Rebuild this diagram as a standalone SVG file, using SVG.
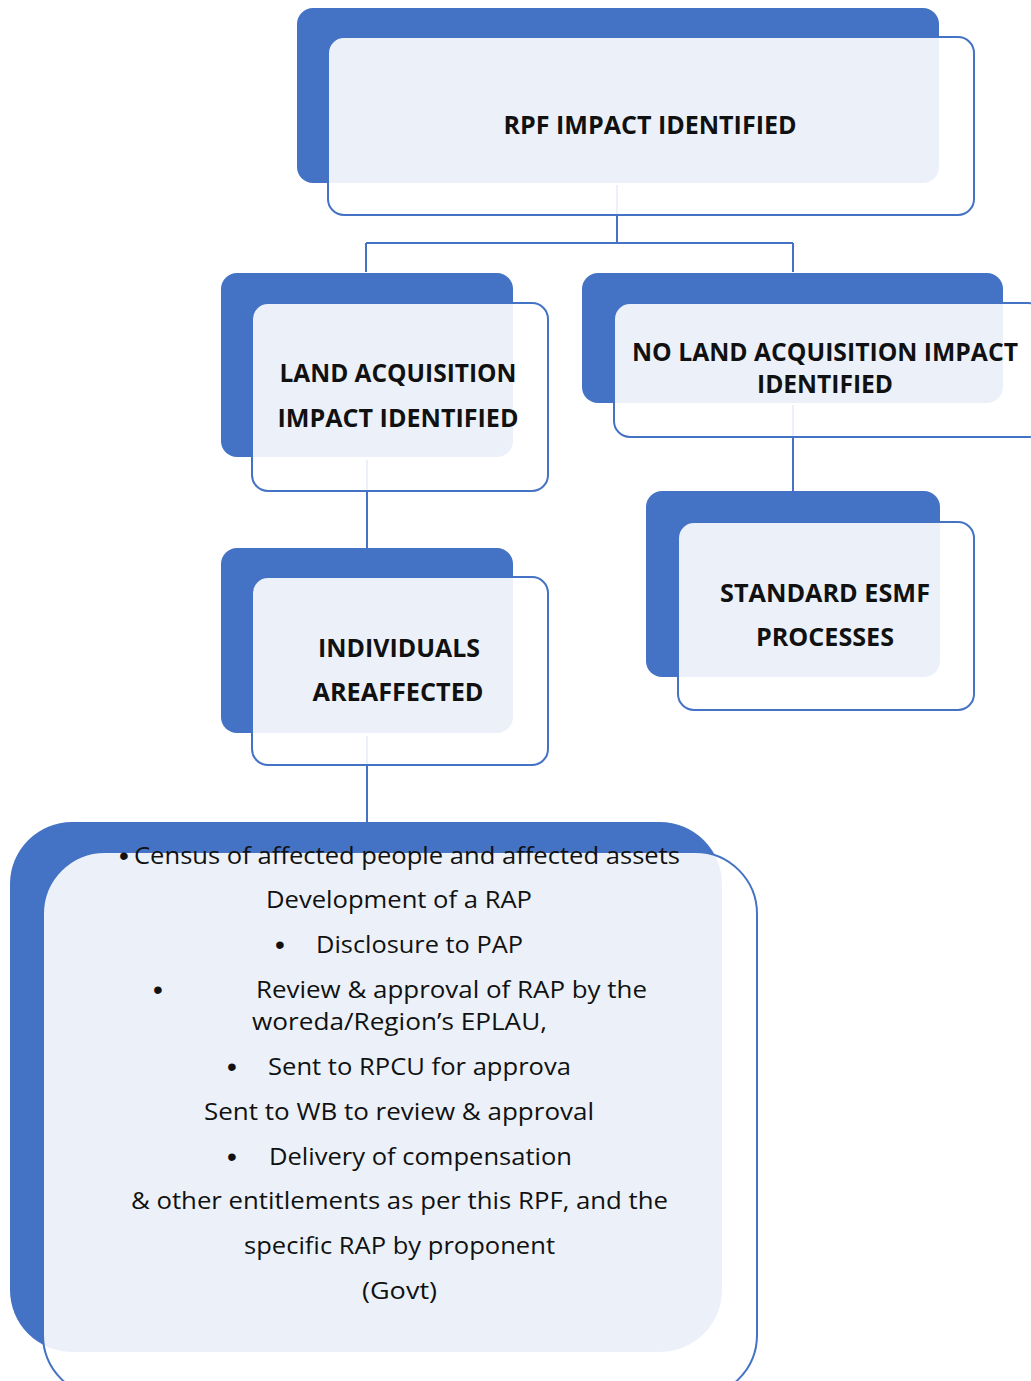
<svg xmlns="http://www.w3.org/2000/svg" width="1031" height="1381" viewBox="0 0 1031 1381">
<style>
.back{fill:#4472C4}
.front{fill:#ffffff;fill-opacity:0.9;stroke:#4472C4;stroke-width:2}
.conn{stroke:#4472C4;stroke-width:2;fill:none}
.t{font-family:"Open Sans","Liberation Sans",sans-serif;font-weight:bold;font-size:25px;fill:#111;text-anchor:middle}
.b{font-family:"Open Sans","Liberation Sans",sans-serif;font-size:24px;fill:#111}
.bul{font-family:"Liberation Sans",sans-serif;font-size:28px;fill:#111}
</style>
<rect width="1031" height="1381" fill="#ffffff"/>
<g id="connectors">
<path class="conn" d="M617,185 V243 M366,243 H793 M366,243 V272 M793,243 V272"/>
<path class="conn" d="M367,460 V548"/>
<path class="conn" d="M793,405 V491"/>
<path class="conn" d="M367,736 V822"/>
</g>
<g id="node-rpf">
<rect class="back" x="297" y="8" width="642" height="175" rx="16"/>
<rect class="front" x="328" y="37" width="646" height="178" rx="16"/>
<text class="t" x="650" y="134" textLength="293" lengthAdjust="spacingAndGlyphs">RPF IMPACT IDENTIFIED</text>
</g>
<g id="node-land">
<rect class="back" x="221" y="273" width="292" height="184" rx="16"/>
<rect class="front" x="252" y="303" width="296" height="188" rx="16"/>
<text class="t" x="398" y="382" textLength="237" lengthAdjust="spacingAndGlyphs">LAND ACQUISITION</text>
<text class="t" x="398" y="427" textLength="241" lengthAdjust="spacingAndGlyphs">IMPACT IDENTIFIED</text>
</g>
<g id="node-noland">
<rect class="back" x="582" y="273" width="421" height="130" rx="16"/>
<rect class="front" x="614" y="303" width="430" height="134" rx="16"/>
<text class="t" x="825" y="361" textLength="386" lengthAdjust="spacingAndGlyphs">NO LAND ACQUISITION IMPACT</text>
<text class="t" x="825" y="393" textLength="136" lengthAdjust="spacingAndGlyphs">IDENTIFIED</text>
</g>
<g id="node-individuals">
<rect class="back" x="221" y="548" width="292" height="185" rx="16"/>
<rect class="front" x="252" y="577" width="296" height="188" rx="16"/>
<text class="t" x="399" y="657" textLength="162" lengthAdjust="spacingAndGlyphs">INDIVIDUALS</text>
<text class="t" x="398" y="701" textLength="171" lengthAdjust="spacingAndGlyphs">AREAFFECTED</text>
</g>
<g id="node-esmf">
<rect class="back" x="646" y="491" width="294" height="186" rx="16"/>
<rect class="front" x="678" y="522" width="296" height="188" rx="16"/>
<text class="t" x="825" y="602" textLength="210" lengthAdjust="spacingAndGlyphs">STANDARD ESMF</text>
<text class="t" x="825" y="646" textLength="138" lengthAdjust="spacingAndGlyphs">PROCESSES</text>
</g>
<g id="node-process">
<rect class="back" x="10" y="822" width="712" height="530" rx="62"/>
<rect class="front" x="43" y="852" width="714" height="545" rx="62"/>
<text class="bul" x="119" y="865">•</text>
<text class="b" x="134" y="864" textLength="546" lengthAdjust="spacingAndGlyphs">Census of affected people and affected assets</text>
<text class="b" x="266" y="908" textLength="266" lengthAdjust="spacingAndGlyphs">Development  of a RAP</text>
<text class="bul" x="275" y="954">•</text>
<text class="b" x="316" y="953" textLength="207" lengthAdjust="spacingAndGlyphs">Disclosure to PAP</text>
<text class="bul" x="153" y="999">•</text>
<text class="b" x="256" y="998" textLength="391" lengthAdjust="spacingAndGlyphs">Review &amp; approval of RAP by the</text>
<text class="b" x="252" y="1030" textLength="295" lengthAdjust="spacingAndGlyphs">woreda/Region’s  EPLAU,</text>
<text class="bul" x="227" y="1076">•</text>
<text class="b" x="268" y="1075" textLength="303" lengthAdjust="spacingAndGlyphs">Sent to RPCU for approva</text>
<text class="b" x="204" y="1120" textLength="390" lengthAdjust="spacingAndGlyphs">Sent to WB to review &amp; approval</text>
<text class="bul" x="227" y="1166">•</text>
<text class="b" x="269" y="1165" textLength="303" lengthAdjust="spacingAndGlyphs">Delivery of compensation</text>
<text class="b" x="131" y="1209" textLength="537" lengthAdjust="spacingAndGlyphs">&amp; other entitlements as per this RPF, and the</text>
<text class="b" x="244" y="1254" textLength="311" lengthAdjust="spacingAndGlyphs">specific RAP by proponent</text>
<text class="b" x="362" y="1299" textLength="75" lengthAdjust="spacingAndGlyphs">(Govt)</text>
</g>
</svg>
